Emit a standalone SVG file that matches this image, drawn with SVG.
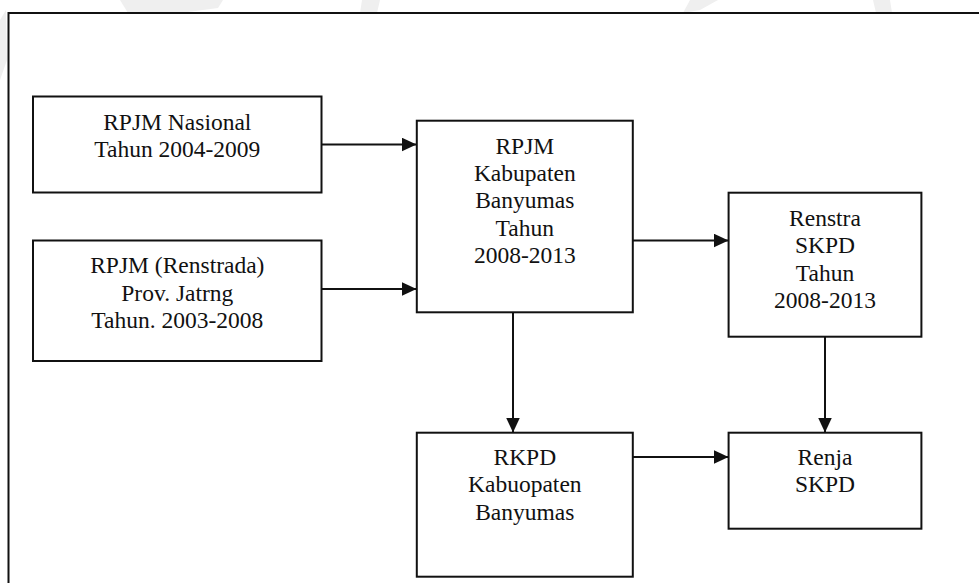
<svg xmlns="http://www.w3.org/2000/svg" width="979" height="583" viewBox="0 0 979 583">
  <defs>
    <style>
      .box { fill: #ffffff; stroke: #111111; stroke-width: 2; }
      .lbl { font-family: "Liberation Serif", "Times New Roman", serif; font-size: 23.5px; fill: #111111; text-anchor: middle; }
      .edge { stroke: #111111; stroke-width: 2; fill: none; marker-end: url(#head); }
      .mark { fill: #efefef; }
    </style>
    <marker id="head" viewBox="0 0 15 14" refX="15" refY="7" markerWidth="15" markerHeight="14" markerUnits="userSpaceOnUse" orient="auto">
      <path d="M0,0 L15,7 L0,14 Z" fill="#111111"/>
    </marker>
  </defs>

  <rect x="0" y="0" width="979" height="583" fill="#ffffff"/>

  <!-- faint background emblem strokes above the frame -->
  <g id="emblem">
    <path class="mark" d="M120,0 L223,0 L218,8 L180,13 L128,13 Z"/>
    <path class="mark" d="M362,0 L380,0 L377,13 L360,13 Z"/>
    <path class="mark" d="M690,0 L718,0 L700,10 L683,13 Z"/>
    <path class="mark" d="M873,0 L890,0 L892,13 L876,13 Z"/>
    <path class="mark" d="M0,20 L6,10 L7,60 L0,80 Z"/>
  </g>

  <!-- outer frame -->
  <rect id="frame" x="8.5" y="13" width="1000" height="600" fill="none" stroke="#111111" stroke-width="2"/>

  <g id="connectors">
    <line class="edge" x1="322" y1="144.5" x2="416.5" y2="144.5"/>
    <line class="edge" x1="322" y1="289" x2="416.5" y2="289"/>
    <line class="edge" x1="633" y1="240.5" x2="728.5" y2="240.5"/>
    <line class="edge" x1="513" y1="312.5" x2="513" y2="432.5"/>
    <line class="edge" x1="825" y1="337" x2="825" y2="432.5"/>
    <line class="edge" x1="633" y1="457" x2="728.5" y2="457"/>
  </g>

  <g id="rpjm-nasional">
    <rect class="box" x="33" y="96.5" width="288.5" height="96"/>
    <text class="lbl" x="177.3" y="130">RPJM Nasional</text>
    <text class="lbl" x="177.3" y="157.4">Tahun 2004-2009</text>
  </g>

  <g id="rpjm-provinsi">
    <rect class="box" x="33" y="240.5" width="288.5" height="120.5"/>
    <text class="lbl" x="177.3" y="273.3">RPJM (Renstrada)</text>
    <text class="lbl" x="177.3" y="300.7">Prov. Jatrng</text>
    <text class="lbl" x="177.3" y="328.1">Tahun. 2003-2008</text>
  </g>

  <g id="rpjm-kabupaten">
    <rect class="box" x="416.8" y="120.7" width="216" height="191.6"/>
    <text class="lbl" x="524.8" y="153.5">RPJM</text>
    <text class="lbl" x="524.8" y="180.9">Kabupaten</text>
    <text class="lbl" x="524.8" y="208.3">Banyumas</text>
    <text class="lbl" x="524.8" y="235.7">Tahun</text>
    <text class="lbl" x="524.8" y="263.1">2008-2013</text>
  </g>

  <g id="renstra-skpd">
    <rect class="box" x="728.6" y="192.7" width="192.8" height="144"/>
    <text class="lbl" x="825" y="225.7">Renstra</text>
    <text class="lbl" x="825" y="253.1">SKPD</text>
    <text class="lbl" x="825" y="280.5">Tahun</text>
    <text class="lbl" x="825" y="307.9">2008-2013</text>
  </g>

  <g id="rkpd">
    <rect class="box" x="416.8" y="432.7" width="216" height="144"/>
    <text class="lbl" x="524.8" y="465">RKPD</text>
    <text class="lbl" x="524.8" y="492.4">Kabuopaten</text>
    <text class="lbl" x="524.8" y="519.8">Banyumas</text>
  </g>

  <g id="renja-skpd">
    <rect class="box" x="728.6" y="432.7" width="192.8" height="96"/>
    <text class="lbl" x="825" y="465">Renja</text>
    <text class="lbl" x="825" y="492.4">SKPD</text>
  </g>
</svg>
